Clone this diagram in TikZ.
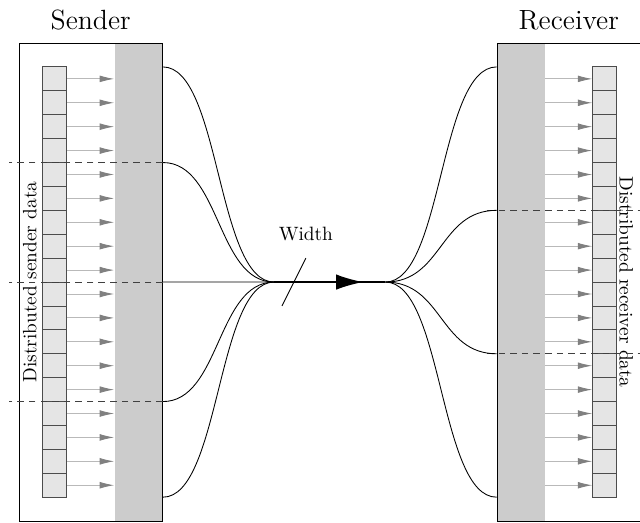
\documentclass[tikz,border=0pt]{standalone}
\usepackage{amsmath}
\usetikzlibrary{calc,arrows.meta}
\def\cellsize{0.4353cm}
\def\datacell{\node[draw=black!70,fill=gray!20,minimum size=\cellsize,inner sep=0pt]}

\begin{document}
\begin{tikzpicture}[x=\cellsize,y=\cellsize,line width=0.45pt,
  frame/.style={draw,minimum width=6*\cellsize,minimum height=20*\cellsize,inner sep=0pt},
  band/.style={fill=gray!40,minimum width=2*\cellsize,minimum height=20*\cellsize,inner sep=0pt},
  feed/.style={gray!55,-{Latex[length=7.5pt,width=3.5pt,color=gray]}},
  cut/.style={dash pattern=on 3.4pt off 2.6pt,black!75},
  title/.style={font=\Large,anchor=base}]
\clip (-0.795,-0.04) rectangle (25.98,21.8);
% the two sides
\node[band] (sband) at (5,10) {};
\node[frame] (sframe) at (3,10) {};
\node[band] (rband) at (21,10) {};
\node[frame] (rframe) at (23,10) {};
\node[title] (stitle) at ([yshift=6.7pt]sframe.north) {Sender};
\node[title] (rtitle) at ([yshift=6.7pt]rframe.north) {Receiver};
\foreach \i in {1,...,18} {
  \datacell (sc\i) at (1.5,\i+0.5) {};
  \datacell (rc\i) at (24.5,\i+0.5) {};
  \draw[feed] (sc\i.east) -- (sc\i.east -| sband.west);
  \draw[feed] (rc\i.west -| rband.east) -- (rc\i.west);
}
\node[rotate=90] (slabel) at (0.45,10) {Distributed sender data};
\node[rotate=-90] (rlabel) at (25.4,10) {Distributed receiver data};
% the link in between
\coordinate (join) at ($(sframe.east)!1/3!(rframe.west)$);
\coordinate (split) at ($(sframe.east)!2/3!(rframe.west)$);
\foreach \y in {19,15,10,5,1}
  \coordinate (sout\y) at ($(sframe.east)+(0,\y-10)$);
\foreach \y in {19,13,7,1}
  \coordinate (rin\y) at ($(rframe.west)+(0,\y-10)$);
\foreach \y in {15,10,5}
  \draw[cut] (sout\y) -- ++(-6.45,0);
\foreach \y in {13,7}
  \draw[cut] ([xshift=-0.4*\cellsize]rin\y) -- ++(7,0);
\foreach \y in {19,15,10,5,1}
  \draw (sout\y) .. controls +(2.4,0) and +(-2.4,0) .. (join);
\foreach \y in {19,13,7,1}
  \draw (split) .. controls +(2.4,0) and +(-2.4,0) .. (rin\y);
\draw[thick] (join) -- (split);
\draw[thick,-{Latex[length=14pt,width=8pt]}] (join) -- ($(join)!0.8!(split)$);
\node (width) at (12,12) {Width};
\draw (11,9) -- (12,11);
\end{tikzpicture}
\end{document}
